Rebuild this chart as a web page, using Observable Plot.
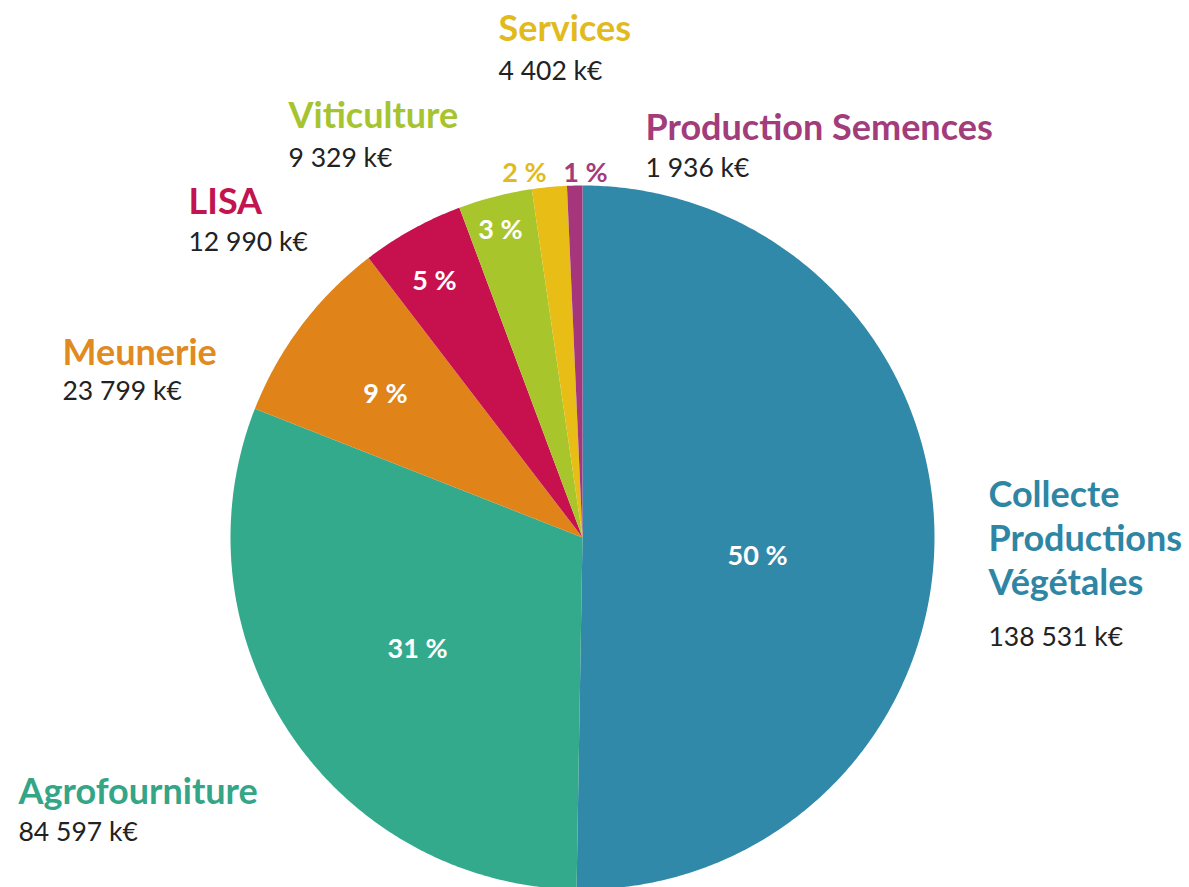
<!DOCTYPE html>
<html><head><meta charset="utf-8">
<script src="https://cdn.jsdelivr.net/npm/d3@7"></script>
<script src="https://cdn.jsdelivr.net/npm/@observablehq/plot@0.6"></script>
<style>html,body{margin:0;padding:0;background:#fff}#chart svg{display:block}</style>
</head><body><div id="chart"></div>
<script>
// ---- data ----
const categories = ["Collecte Productions Végétales", "Agrofourniture", "Meunerie", "LISA", "Viticulture", "Services", "Production Semences"];
const titleLines = ["Collecte\nProductions\nVégétales", "Agrofourniture", "Meunerie", "LISA", "Viticulture", "Services", "Production Semences"];
const values = [138531, 84597, 23799, 12990, 9329, 4402, 1936]; // k€

// ---- styles ----
const sliceColors = ["#3189a9", "#34aa8c", "#e0841a", "#c7114f", "#a8c62b", "#e8bd16", "#a6367b"];
const textColors = ["#2f86a4", "#34a586", "#e08a1f", "#c2144f", "#a6c42f", "#e1ba1e", "#a23c7b"];
const pctColors = ["#fff", "#fff", "#fff", "#fff", "#fff", "#e1ba1e", "#a23c7b"];

// ---- layout (pixel positions of annotations) ----
const W = 1189, H = 887;
const cx = 582, cy = 537, R = 352;
const titlePos = [[988, 594], [18, 803], [62, 364], [188, 213], [288, 127], [498, 40], [645, 139]];
const valuePos = [[988, 645], [18, 840], [62, 399], [188, 250], [288, 166], [498, 79], [645, 176]];
const pctPos = [[757, 564], [417, 657], [385, 402], [434, 289], [500, 238], [524, 181], [585, 181]];

const total = d3.sum(values);
const fr = d3.formatLocale({decimal: ",", thousands: "\u00a0", grouping: [3], currency: ["", "\u00a0€"]});
const fmt = fr.format(",d");

const arcs = d3.pie().sort(null).value(d => d)(values);
const points = [];
arcs.forEach((a, i) => {
  const name = categories[i];
  points.push({name, x: cx, y: cy});
  const n = Math.max(2, Math.ceil((a.endAngle - a.startAngle) / (Math.PI / 360)));
  for (let k = 0; k <= n; k++) {
    const t = a.startAngle + (a.endAngle - a.startAngle) * k / n;
    points.push({name, x: cx + R * Math.sin(t), y: cy - R * Math.cos(t)});
  }
});

const rows = categories.map((c, i) => ({
  name: c,
  title: titleLines[i],
  value: fmt(values[i]) + " k€",
  pct: Math.round(values[i] / total * 100) + "\u00a0%",
  tx: titlePos[i][0], ty: titlePos[i][1],
  vx: valuePos[i][0], vy: valuePos[i][1],
  px: pctPos[i][0], py: pctPos[i][1]
}));

const font = "Lato, 'Open Sans', sans-serif";
const marks = [
  Plot.line(points, {x: "x", y: "y", z: "name", fill: "name", stroke: null, curve: "linear-closed"})
];
rows.forEach((r, i) => {
  marks.push(Plot.text([r], {x: "tx", y: "ty", text: "title", fill: textColors[i], fontSize: 36, fontWeight: "bold",
    textAnchor: "start", lineAnchor: "bottom", lineHeight: 1.22, fontFamily: font}));
  marks.push(Plot.text([r], {x: "vx", y: "vy", text: "value", fill: "#222", fontSize: 26.5,
    textAnchor: "start", lineAnchor: "bottom", fontFamily: font}));
  marks.push(Plot.text([r], {x: "px", y: "py", text: "pct", fill: pctColors[i], fontSize: 27, fontWeight: "bold",
    textAnchor: "middle", lineAnchor: "bottom", fontFamily: font}));
});

const chart = Plot.plot({
  width: W, height: H,
  margin: 0,
  x: {domain: [0, W], range: [0, W], axis: null},
  y: {domain: [0, H], range: [0, H], axis: null},
  color: {domain: categories, range: sliceColors},
  style: {background: "#fff", fontFamily: font},
  marks
});
document.getElementById("chart").appendChild(chart);
</script>
</body></html>
